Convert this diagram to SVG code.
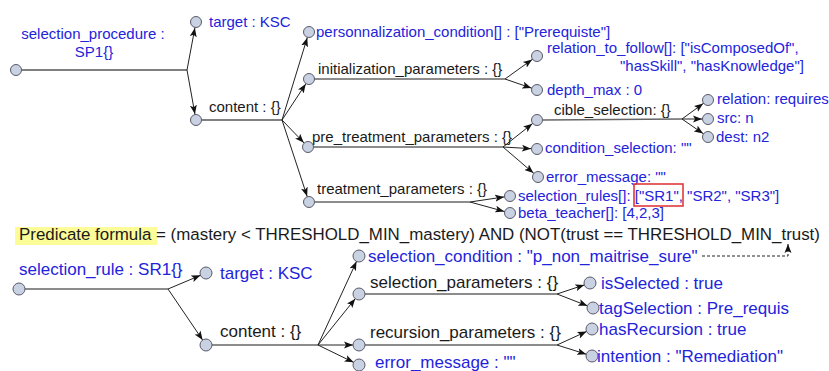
<svg xmlns="http://www.w3.org/2000/svg" width="829" height="371" viewBox="0 0 829 371">
<defs>
<marker id="arr" markerUnits="userSpaceOnUse" markerWidth="16" markerHeight="8" refX="15" refY="4" orient="auto">
<path d="M0,0.5 L9,4 L0,7.5 L2,4 z" fill="#111"/>
</marker>
<marker id="arrd" markerUnits="userSpaceOnUse" markerWidth="10" markerHeight="8" refX="9" refY="4" orient="auto">
<path d="M0,0.5 L9,4 L0,7.5 L2,4 z" fill="#111"/>
</marker>
<style>
text{font-family:"Liberation Sans",Arial,sans-serif;}
.t{font-size:15px;}
.b{font-size:17px;}
.blue{fill:#2323dc;}
.blk{fill:#1a1a1a;}
circle{fill:#c9d2e2;stroke:#5a5a6a;stroke-width:1;}
.h{stroke:#666;stroke-width:1.4;fill:none;}
.hm{stroke:#808080;stroke-width:1.8;fill:none;}
.a{stroke:#222;stroke-width:1;fill:none;marker-end:url(#arr);}
</style>
</defs>
<rect width="829" height="371" fill="#fff"/>
<g id="connectors">
<line class="hm" x1="22" y1="70" x2="187" y2="70"/>
<line class="a" x1="187" y1="70" x2="196" y2="22"/>
<line class="a" x1="187" y1="70" x2="196" y2="120"/>
<line class="hm" x1="202" y1="120" x2="282" y2="120"/>
<line class="a" x1="282" y1="120" x2="309" y2="32"/>
<line class="a" x1="282" y1="120" x2="309" y2="79"/>
<line class="a" x1="282" y1="120" x2="308" y2="147"/>
<line class="a" x1="282" y1="120" x2="309" y2="202"/>
<line class="h" x1="314" y1="79" x2="505" y2="79"/>
<line class="a" x1="505" y1="79" x2="537" y2="56"/>
<line class="a" x1="505" y1="79" x2="537" y2="90"/>
<line class="h" x1="314" y1="147" x2="503" y2="147"/>
<line class="a" x1="503" y1="147" x2="537" y2="120"/>
<line class="a" x1="503" y1="147" x2="537" y2="149"/>
<line class="a" x1="503" y1="147" x2="538" y2="177"/>
<line class="h" x1="543" y1="120" x2="682" y2="119"/>
<line class="a" x1="682" y1="119" x2="708" y2="100"/>
<line class="a" x1="682" y1="119" x2="708" y2="119"/>
<line class="a" x1="682" y1="119" x2="708" y2="137"/>
<line class="h" x1="315" y1="202" x2="470" y2="202"/>
<line class="a" x1="470" y1="202" x2="510" y2="196"/>
<line class="a" x1="470" y1="202" x2="510" y2="213"/>
<line class="h" x1="25" y1="289" x2="168" y2="289"/>
<line class="a" x1="168" y1="289" x2="206" y2="273"/>
<line class="a" x1="168" y1="289" x2="206" y2="345"/>
<line class="h" x1="212" y1="345" x2="318" y2="345"/>
<line class="a" x1="318" y1="345" x2="359" y2="256"/>
<line class="a" x1="318" y1="345" x2="359" y2="294"/>
<line class="a" x1="318" y1="345" x2="359" y2="345"/>
<line class="a" x1="318" y1="345" x2="359" y2="365"/>
<line class="h" x1="365" y1="294" x2="557" y2="294"/>
<line class="a" x1="557" y1="294" x2="590" y2="283"/>
<line class="a" x1="557" y1="294" x2="593" y2="308"/>
<line class="h" x1="365" y1="345" x2="557" y2="345"/>
<line class="a" x1="557" y1="345" x2="592" y2="329"/>
<line class="a" x1="557" y1="345" x2="592" y2="356"/>
<path d="M702,256 H788 V244" fill="none" stroke="#222" stroke-width="1" stroke-dasharray="3,2" marker-end="url(#arrd)"/>
</g>
<g id="n_sp"><circle cx="16" cy="70" r="5.5"/><text class="t blue" x="93" y="39" text-anchor="middle">selection_procedure :</text><text class="t blue" x="94" y="57" text-anchor="middle">SP1{}</text></g>
<g id="n_target1"><circle cx="196" cy="22" r="5.5"/><text class="t blue" x="209" y="27">target : KSC</text></g>
<g id="n_content1"><circle cx="196" cy="120" r="5.5"/><text class="t blk" x="209" y="112">content : {}</text></g>
<g id="n_pers"><circle cx="309" cy="32" r="5.5"/><text class="t blue" x="316" y="37">personnalization_condition[] : ["Prerequiste"]</text></g>
<g id="n_init"><circle cx="309" cy="79" r="5.5"/><text class="t blk" x="318" y="74">initialization_parameters : {}</text></g>
<g id="n_rel"><circle cx="537" cy="56" r="5.5"/><text class="t blue" x="547" y="53">relation_to_follow[]: ["isComposedOf",</text><text class="t blue" x="620" y="71">"hasSkill", "hasKnowledge"]</text></g>
<g id="n_depth"><circle cx="537" cy="90" r="5.5"/><text class="t blue" x="547" y="95">depth_max : 0</text></g>
<g id="n_pre"><circle cx="308" cy="147" r="5.5"/><text class="t blk" x="312" y="142">pre_treatment_parameters : {}</text></g>
<g id="n_cible"><circle cx="537" cy="120" r="5.5"/><text class="t blk" x="554" y="115">cible_selection: {}</text></g>
<g id="n_relation"><circle cx="708" cy="100" r="5.5"/><text class="t blue" x="717" y="104">relation: requires</text></g>
<g id="n_src"><circle cx="708" cy="119" r="5.5"/><text class="t blue" x="717" y="123">src: n</text></g>
<g id="n_dest"><circle cx="708" cy="137" r="5.5"/><text class="t blue" x="716" y="142">dest: n2</text></g>
<g id="n_cond"><circle cx="537" cy="149" r="5.5"/><text class="t blue" x="545" y="153">condition_selection: ""</text></g>
<g id="n_err1"><circle cx="538" cy="177" r="5.5"/><text class="t blue" x="546" y="182">error_message: ""</text></g>
<g id="n_treat"><circle cx="309" cy="202" r="5.5"/><text class="t blk" x="317" y="194">treatment_parameters : {}</text></g>
<g id="n_rules"><circle cx="510" cy="196" r="5.5"/><text class="t blue" x="518" y="201">selection_rules[]: ["SR1", "SR2", "SR3"]</text><rect x="634" y="184" width="49" height="22" fill="none" stroke="#e03a3a" stroke-width="1.6"/></g>
<g id="n_beta"><circle cx="510" cy="213" r="5.5"/><text class="t blue" x="518" y="218">beta_teacher[]: [4,2,3]</text></g>
<g id="predicate"><rect x="15" y="227" width="142" height="18" fill="#fcfc98"/><text class="blk" x="19" y="240" style="font-size:16.9px">Predicate formula = (mastery &lt; THRESHOLD_MIN_mastery) AND (NOT(trust == THRESHOLD_MIN_trust)</text></g>
<g id="n_sr"><circle cx="19" cy="289" r="6"/><text class="b blue" x="19" y="275">selection_rule : SR1{}</text></g>
<g id="n_target2"><circle cx="206" cy="273" r="6"/><text class="b blue" x="220" y="279">target : KSC</text></g>
<g id="n_content2"><circle cx="206" cy="345" r="6"/><text class="b blk" x="220" y="337">content : {}</text></g>
<g id="n_selcond"><circle cx="359" cy="256" r="6"/><text class="b blue" x="368" y="262">selection_condition : "p_non_maitrise_sure"</text></g>
<g id="n_selparam"><circle cx="359" cy="294" r="6"/><text class="b blk" x="370" y="288">selection_parameters : {}</text></g>
<g id="n_isSel"><circle cx="590" cy="283" r="6"/><text class="b blue" x="601" y="289">isSelected : true</text></g>
<g id="n_tag"><circle cx="593" cy="308" r="6"/><text class="b blue" x="599" y="314">tagSelection : Pre_requis</text></g>
<g id="n_recparam"><circle cx="359" cy="345" r="6"/><text class="b blk" x="370" y="338">recursion_parameters : {}</text></g>
<g id="n_hasRec"><circle cx="592" cy="329" r="6"/><text class="b blue" x="599" y="335">hasRecursion : true</text></g>
<g id="n_intention"><circle cx="592" cy="356" r="6"/><text class="b blue" x="597" y="362">intention : "Remediation"</text></g>
<g id="n_err2"><circle cx="359" cy="365" r="6"/><text class="b blue" x="375" y="368">error_message : ""</text></g>
</svg>
